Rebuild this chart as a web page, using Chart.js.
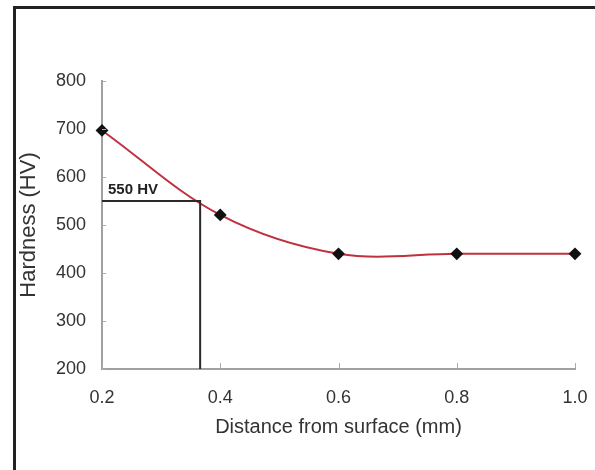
<!DOCTYPE html>
<html>
<head>
<meta charset="utf-8">
<script src="https://cdn.jsdelivr.net/npm/chart.js@4"></script>
<style>
	body { margin: 0; background: #fff; }
	#quadro { position: relative; width: 595px; height: 470px; overflow: hidden; }
	#moldura { position: absolute; left: 13px; top: 6px; right: -5px; bottom: -5px;
		border-left: 3px solid #222; border-top: 3px solid #222; }
	#graficoDureza { position: absolute; left: 0; top: 0; }
</style>
</head>
<body>
<div id="quadro">
	<div id="moldura"></div>
	<canvas id="graficoDureza" width="595" height="470"></canvas>
</div>
<script>
// valores
var distancias = [0.2, 0.4, 0.6, 0.8, 1.0];
var durezas = [697, 521, 440, 440, 440];
var limiteDistancia = [0.2, 0.366, 0.366];
var limiteDureza = [550, 550, 200];
var limiteTexto = '550 HV';
var ticksDistancia = [0.2, 0.4, 0.6, 0.8, 1.0];
var ticksDureza = [200, 300, 400, 500, 600, 700, 800];

var Dureza = Dureza || {};

Dureza.Grafico = (function() {

	function Grafico() {
		this.ctx = document.getElementById('graficoDureza').getContext('2d');
	}

	Grafico.prototype.iniciar = function() {
		var pontos = distancias.map(function(d, i) {
			return { x: d, y: durezas[i] };
		});
		var limite = limiteDistancia.map(function(d, i) {
			return { x: d, y: limiteDureza[i] };
		});

		var marcas = {
			id: 'marcas',
			afterDraw: function(chart) {
				var ctx = chart.ctx;
				var x = chart.scales.x, y = chart.scales.y;
				ctx.save();
				ctx.strokeStyle = '#aaa';
				ctx.lineWidth = 1;
				ctx.beginPath();
				ticksDureza.forEach(function(v) {
					var py = Math.round(y.getPixelForValue(v)) + 0.5;
					ctx.moveTo(x.left, py);
					ctx.lineTo(x.left + 4, py);
				});
				ticksDistancia.forEach(function(v) {
					var px = Math.round(x.getPixelForValue(v)) + 0.5;
					ctx.moveTo(px, y.bottom);
					ctx.lineTo(px, y.bottom - 6);
				});
				ctx.stroke();

				ctx.fillStyle = '#222';
				ctx.font = 'bold 15px "Liberation Sans", Arial, sans-serif';
				ctx.textBaseline = 'alphabetic';
				ctx.fillText(limiteTexto, x.getPixelForValue(limiteDistancia[0]) + 6,
					y.getPixelForValue(limiteDureza[0]) - 7);
				ctx.restore();
			}
		};

		new Chart(this.ctx, {
			type: 'line',
			data: {
				datasets: [{
					data: limite,
					borderColor: '#2a2a2a',
					borderWidth: 2,
					pointRadius: 0,
					tension: 0,
					clip: false
				}, {
					data: pontos,
					borderColor: '#c0303f',
					borderWidth: 2,
					tension: 0.35,
					pointStyle: 'rectRot',
					pointRadius: 5,
					pointBackgroundColor: '#111',
					pointBorderColor: '#111',
					clip: false
				}]
			},
			options: {
				responsive: false,
				animation: false,
				layout: { padding: { left: 16, right: 20, top: 81, bottom: 27 } },
				plugins: { legend: { display: false }, tooltip: { enabled: false } },
				scales: {
					x: {
						type: 'linear',
						min: 0.2,
						max: 1.0,
						afterBuildTicks: function(s) {
							s.ticks = ticksDistancia.map(function(v) { return { value: v }; });
						},
						afterFit: function(s) {
							s.height = 74;
							s.paddingLeft = 0;
							s.paddingRight = 0;
						},
						grid: { display: false },
						border: { display: true, color: '#a0a0a0', width: 2 },
						ticks: {
							padding: 10,
							color: '#333',
							font: { family: '"Liberation Sans", Arial, sans-serif', size: 18 },
							callback: function(v) { return v.toFixed(1); }
						},
						title: {
							display: true,
							text: 'Distance from surface (mm)',
							color: '#333',
							padding: { top: 0, bottom: 4 },
							font: { family: '"Liberation Sans", Arial, sans-serif', size: 20 }
						}
					},
					y: {
						min: 200,
						max: 800,
						afterBuildTicks: function(s) {
							s.ticks = ticksDureza.map(function(v) { return { value: v }; });
						},
						afterFit: function(s) { s.width = 86; },
						grid: { display: false },
						border: { display: true, color: '#a0a0a0', width: 2 },
						ticks: {
							padding: 8,
							color: '#333',
							font: { family: '"Liberation Sans", Arial, sans-serif', size: 18 }
						},
						title: {
							display: true,
							text: 'Hardness (HV)',
							color: '#333',
							padding: { top: 0, bottom: 0 },
							font: { family: '"Liberation Sans", Arial, sans-serif', size: 22 }
						}
					}
				}
			},
			plugins: [marcas]
		});
	}

	return Grafico;

}());

var grafico = new Dureza.Grafico();
grafico.iniciar();
</script>
</body>
</html>
